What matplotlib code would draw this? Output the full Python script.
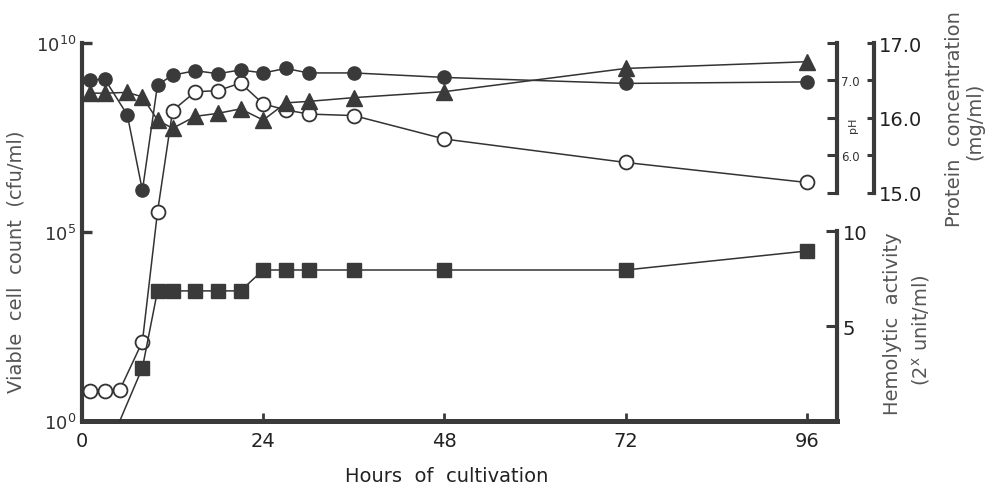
import matplotlib
matplotlib.use("Agg")
import matplotlib.pyplot as plt

# sampling times (h) and the four measured series
hours = [1, 3, 5, 8, 10, 12, 15, 18, 21, 24, 27, 30, 36, 48, 72, 96]
log_viable = [0.80, 0.80, 0.82, 2.10, 5.53, 8.21, 8.71, 8.74, 8.94, 8.39,
              8.23, 8.12, 8.08, 7.46, 6.84, 6.31]          # log10 cfu/ml

ph_hours = [1, 3, 6, 8, 10, 12, 15, 18, 21, 24, 27, 30, 36, 48, 72, 96]
ph = [7.00, 7.02, 6.54, 5.53, 6.94, 7.07, 7.13, 7.09, 7.14, 7.10,
      7.16, 7.10, 7.10, 7.04, 6.96, 6.98]

protein_hours = [1, 3, 6, 8, 10, 12, 15, 18, 21, 24, 27, 30, 36, 48, 72, 96]
protein = [16.33, 16.33, 16.34, 16.28, 15.97, 15.86, 16.02, 16.06, 16.12, 15.97,
           16.20, 16.22, 16.27, 16.35, 16.66, 16.75]      # mg/ml

hemo_hours = [5, 8, 10, 12, 15, 18, 21, 24, 27, 30, 36, 48, 72, 96]
hemolytic = [0, 2.8, 6.85, 6.85, 6.85, 6.85, 6.85, 7.95, 7.95, 7.95,
             7.95, 7.95, 7.95, 8.95]                        # log2 unit/ml

x_ticks = [0, 24, 48, 72, 96]
count_ticks = [1, 1e5, 1e10]
count_labels = [r"$10^{0}$", r"$10^{5}$", r"$10^{10}$"]

plt.rcParams["font.family"] = "DejaVu Sans"
plt.rcParams["mathtext.fontset"] = "dejavusans"

INK = "#3a3a3a"
LINE = "#333333"
LABEL = "#555555"
SPINE_W = 3.0
FS = 14

fig = plt.figure(figsize=(9.9, 4.89), dpi=100)
ax = fig.add_axes([82 / 990, 67 / 489, 755 / 990, 378 / 489])

# ---- viable count, log axis on the left ----
ax.set_yscale("log")
ax.set_xlim(0, 100)
ax.set_ylim(1, 1e10)
ax.plot(hours, [10 ** v for v in log_viable], "-o", color=LINE, lw=1.1,
        ms=10, mfc="white", mec=LINE, mew=1.3, zorder=4, clip_on=False)

for side in ("top", "right"):
    ax.spines[side].set_visible(False)
ax.spines["left"].set_linewidth(SPINE_W)
ax.spines["bottom"].set_linewidth(3.6)
for side in ("left", "bottom"):
    ax.spines[side].set_color(INK)

ax.set_yticks(count_ticks)
ax.set_yticklabels(count_labels)
ax.yaxis.set_minor_locator(plt.NullLocator())
ax.tick_params(axis="y", direction="in", length=7, width=2.4, color=INK,
               labelsize=13, pad=4, labelcolor="#333333")
ax.set_xticks(x_ticks)
ax.tick_params(axis="x", direction="in", length=6, width=2, color=INK,
               labelsize=FS, pad=7, labelcolor="#222222")

ax.set_xlabel("Hours  of  cultivation", fontsize=FS, color="#222222")
ax.xaxis.set_label_coords(0.483, -0.145)
ax.xaxis.label.set_va("center")
ax.set_ylabel("Viable  cell  count  (cfu/ml)", fontsize=FS, color=LABEL)
ax.yaxis.set_label_coords(-0.088, 0.423)
ax.yaxis.label.set_va("center")


def right_axis(ylim, bounds, offset=0):
    """Twin axis that only shows a bracket of its right spine."""
    tw = ax.twinx()
    tw.set_ylim(*ylim)
    for side in ("top", "left", "bottom"):
        tw.spines[side].set_visible(False)
    sp = tw.spines["right"]
    sp.set_bounds(*bounds)
    sp.set_linewidth(SPINE_W)
    sp.set_color(INK)
    if offset:
        sp.set_position(("outward", offset))
    return tw


# ---- hemolytic activity, lower right bracket ----
ax_hem = right_axis((0, 19.9), (0, 10))
ax_hem.set_yticks([5, 10])
ax_hem.tick_params(axis="y", direction="in", length=8, width=2.2, color=INK,
                   labelsize=FS, pad=4, labelcolor="#222222")
ax_hem.plot(hemo_hours, hemolytic, "-s", color=LINE, lw=1.1, ms=9.5,
            mfc=INK, mec=INK, markevery=slice(1, None), zorder=4, clip_on=False)

# ---- pH, upper inner bracket ----
ax_ph = right_axis((2.45, 7.5), (5.5, 7.5))
ax_ph.set_yticks([6.0, 7.0])
ax_ph.set_yticklabels(["6.0", "7.0"])
ax_ph.set_yticks([5.5, 6.5, 7.5], minor=True)
ax_ph.tick_params(axis="y", which="both", direction="in", length=7, width=2.2,
                  color=INK, labelsize=8.5, pad=3, labelcolor="#333333")
ax_ph.plot(ph_hours, ph, "-o", color=LINE, lw=1.1, ms=9.5, mfc=INK, mec=INK,
           zorder=4, clip_on=False)

# ---- protein concentration, outer bracket ----
ax_pr = right_axis((11.95, 17.0), (15.0, 17.0), offset=26.5)
ax_pr.set_yticks([15.0, 16.0, 17.0])
ax_pr.set_yticklabels(["15.0", "16.0", "17.0"])
ax_pr.set_yticks([15.5, 16.5], minor=True)
ax_pr.tick_params(axis="y", which="both", direction="in", length=5, width=2.2,
                  color=INK, labelsize=FS, pad=4, labelcolor="#222222")
ax_pr.plot(protein_hours, protein, "-^", color=LINE, lw=1.1, ms=11,
           mfc=INK, mec=INK, zorder=4, clip_on=False)

fig.text(853 / 990, 1 - 125 / 489, "pH", rotation=90, fontsize=8,
         ha="center", va="center", color="#333333")
fig.text(955 / 990, 1 - 119 / 489, "Protein  concentration", rotation=90,
         fontsize=FS, ha="center", va="center", color=LABEL)
fig.text(975 / 990, 1 - 121 / 489, "(mg/ml)", rotation=90,
         fontsize=FS, ha="center", va="center", color=LABEL)
fig.text(893 / 990, 1 - 324 / 489, "Hemolytic  activity", rotation=90,
         fontsize=FS, ha="center", va="center", color=LABEL)
fig.text(921 / 990, 1 - 330 / 489, r"(2$^{\mathrm{x}}$ unit/ml)", rotation=90,
         fontsize=FS, ha="center", va="center", color=LABEL)

fig.savefig("out.png", dpi=100)
